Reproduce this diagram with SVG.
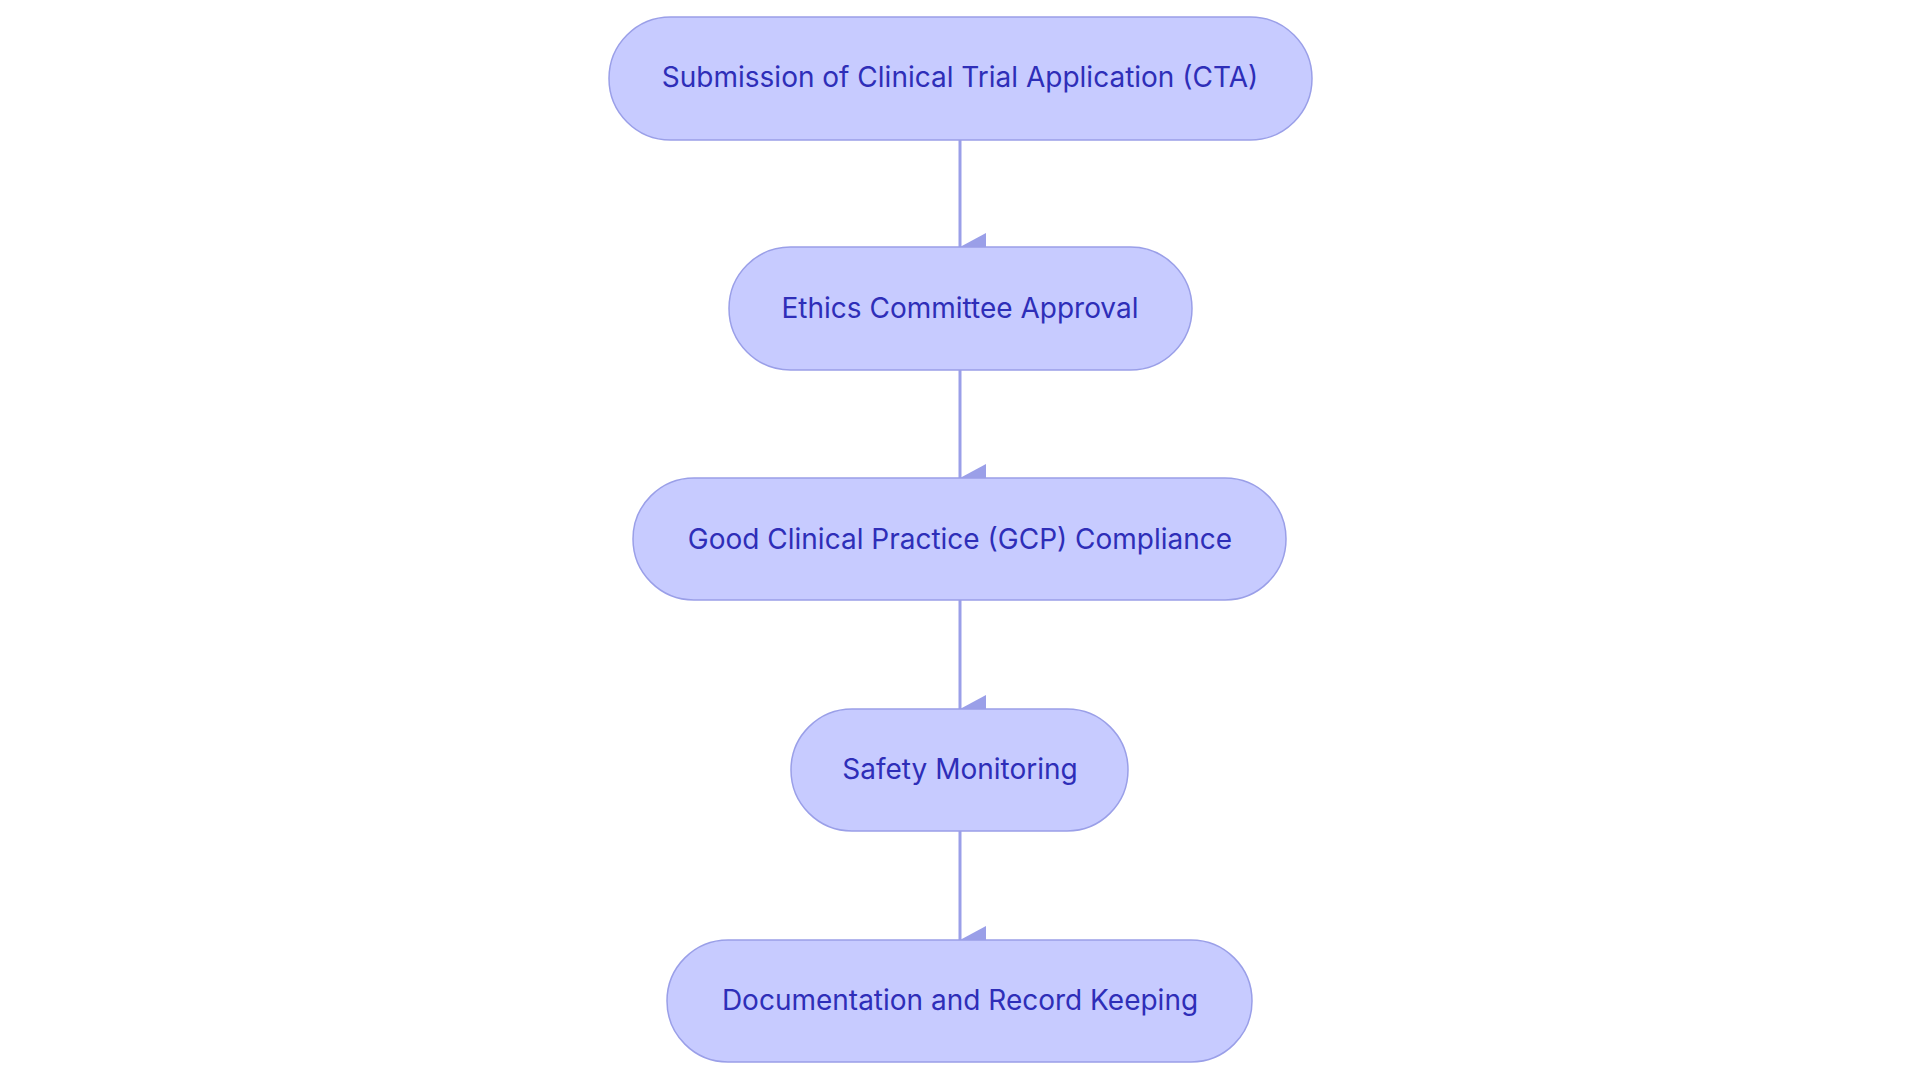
<svg xmlns="http://www.w3.org/2000/svg" width="1920" height="1083" viewBox="0 0 1920 1083">
<style>
.n rect{fill:#c7cbff;stroke:#9a9fe8;stroke-width:1.5}
.n text{font-family:Inter,"Liberation Sans",sans-serif;font-size:28px;fill:#2e2eb8;text-anchor:middle;dominant-baseline:central}
.c line{stroke:#9a9fe8;stroke-width:3}
</style>
<defs><marker id="a" markerUnits="userSpaceOnUse" markerWidth="28" markerHeight="26" refX="14" refY="26" orient="auto-start-reverse" viewBox="0 0 28 26"><path d="M0 0H28L14 26Z" fill="#9a9fe8"/></marker></defs>
<rect width="1920" height="1083" fill="#fff"/>
<g class="c">
<line x1="960" y1="140" x2="960" y2="247" marker-end="url(#a)"/>
<line x1="960" y1="370" x2="960" y2="478" marker-end="url(#a)"/>
<line x1="960" y1="600" x2="960" y2="709" marker-end="url(#a)"/>
<line x1="960" y1="831" x2="960" y2="940" marker-end="url(#a)"/>
</g>
<g id="n1" class="n"><rect x="609" y="17" width="703" height="123" rx="61.5"/><text x="960" y="77">Submission of Clinical Trial Application (CTA)</text></g>
<g id="n2" class="n"><rect x="729" y="247" width="463" height="123" rx="61.5"/><text x="960" y="308">Ethics Committee Approval</text></g>
<g id="n3" class="n"><rect x="633" y="478" width="653" height="122" rx="61"/><text x="960" y="539">Good Clinical Practice (GCP) Compliance</text></g>
<g id="n4" class="n"><rect x="791" y="709" width="337" height="122" rx="61"/><text x="960" y="769">Safety Monitoring</text></g>
<g id="n5" class="n"><rect x="667" y="940" width="585" height="122" rx="61"/><text x="960" y="1000">Documentation and Record Keeping</text></g>
</svg>
